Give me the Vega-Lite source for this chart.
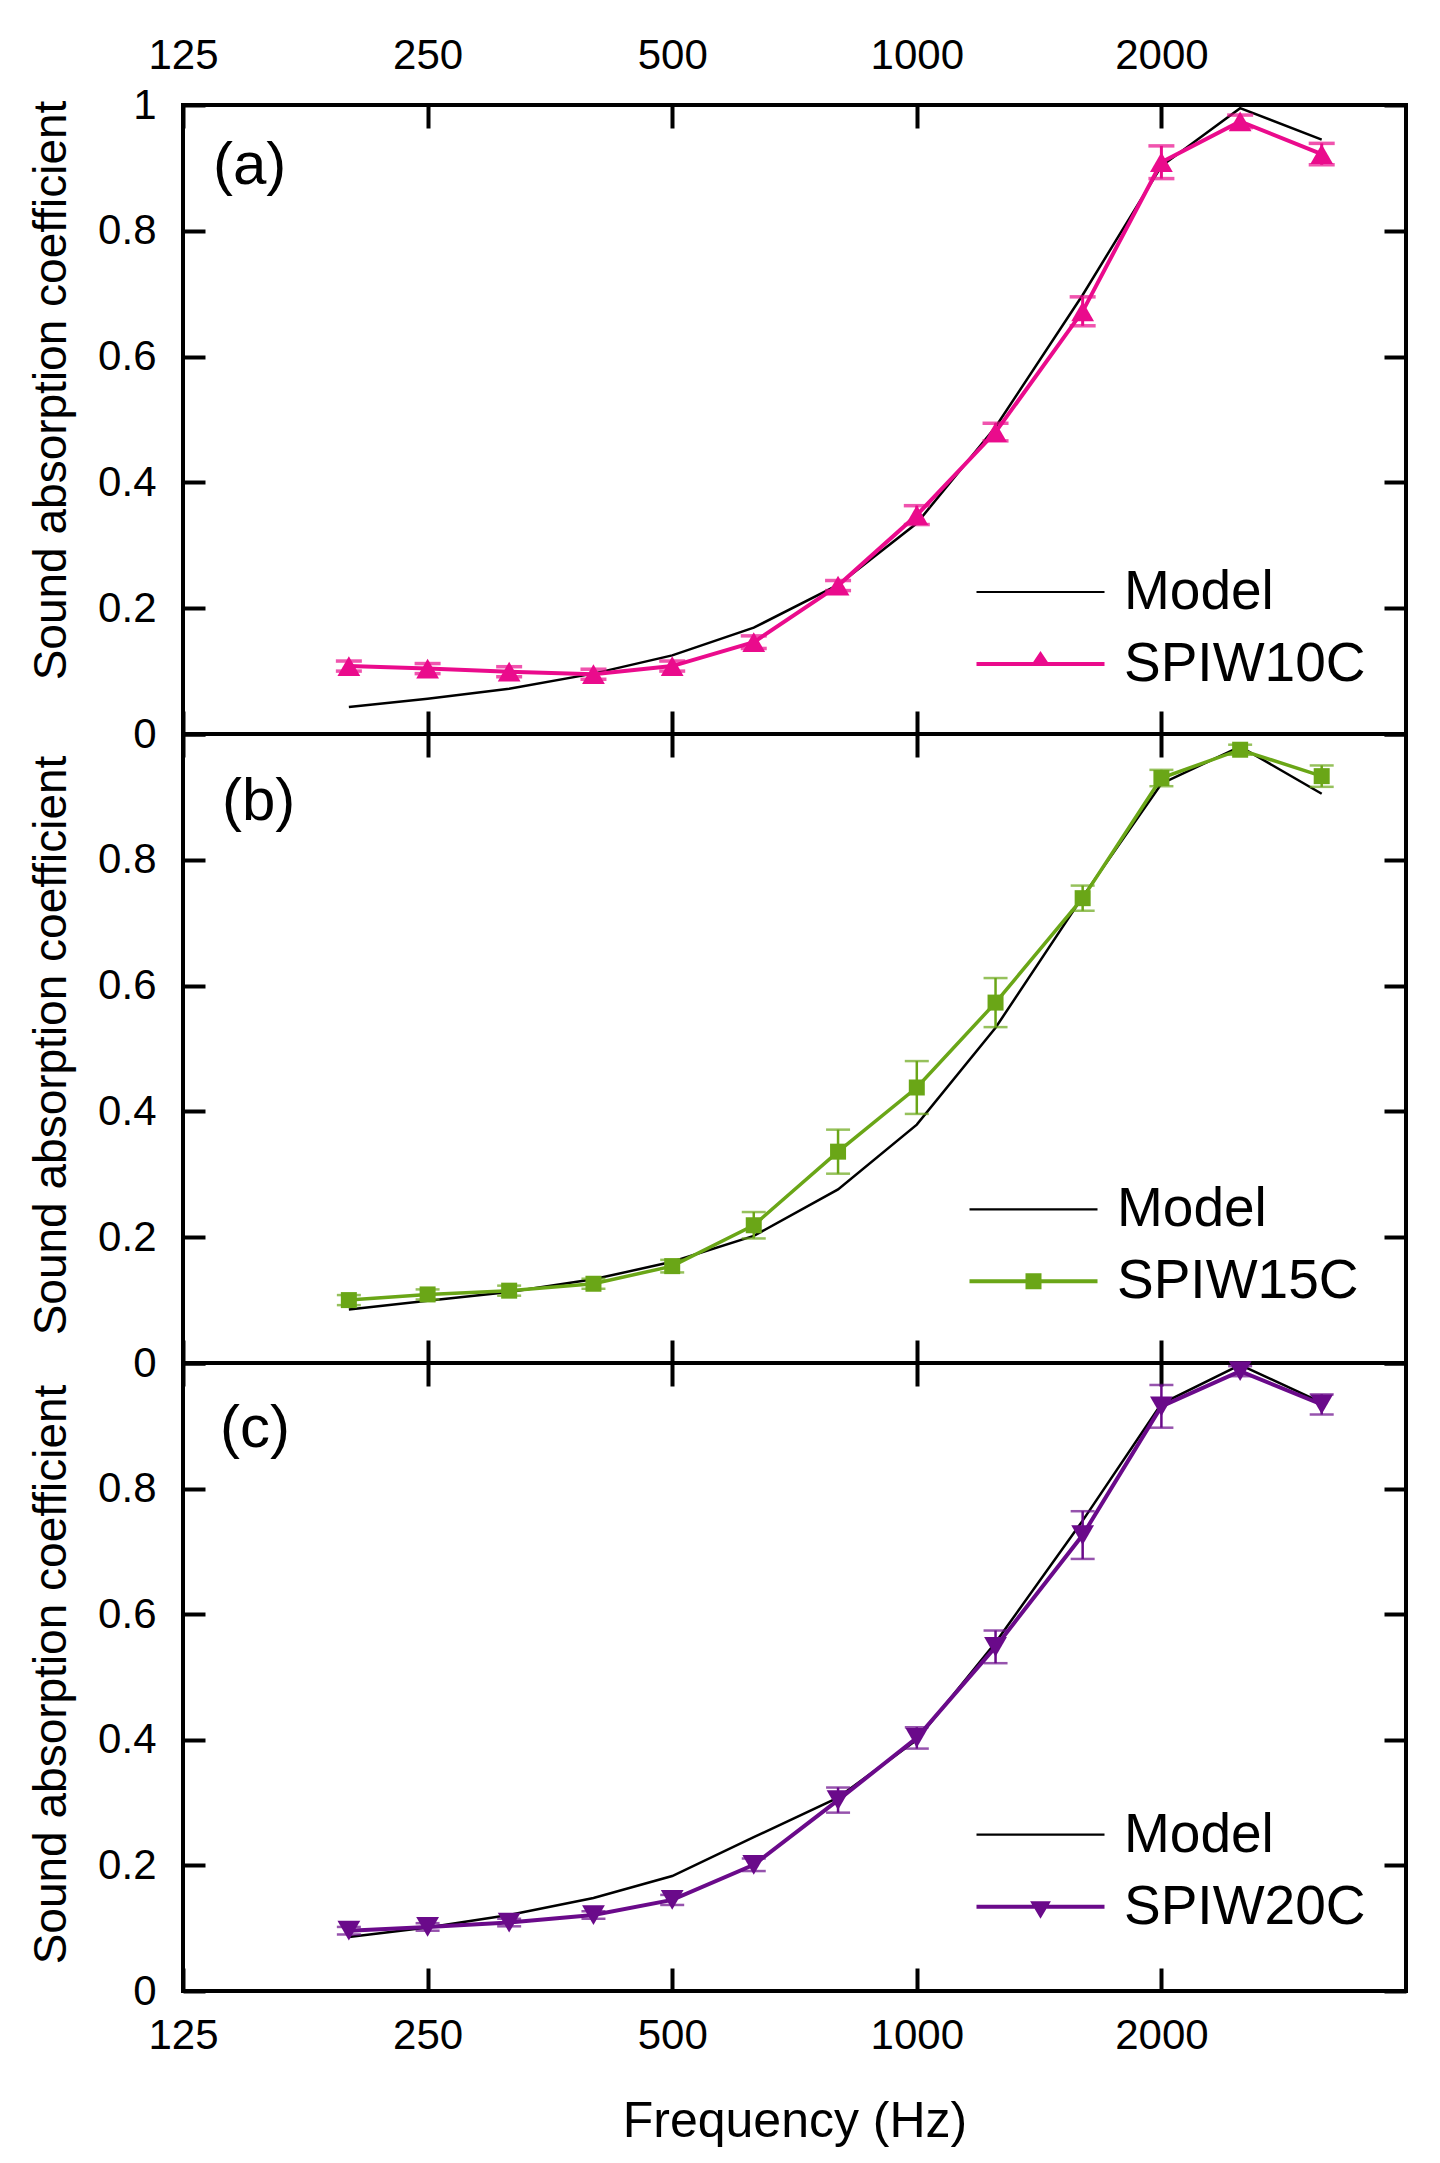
{
  "$schema": "https://vega.github.io/schema/vega-lite/v6.json",
  "background": "white",
  "autosize": {"type": "pad"},
  "padding": {"left": 25, "top": 32, "right": 0, "bottom": 0},
  "datasets": {
    "a": [
      {"f": 200, "model": 0.043, "meas": 0.108, "err": 0.008},
      {"f": 250, "model": 0.056, "meas": 0.104, "err": 0.008},
      {"f": 315, "model": 0.072, "meas": 0.099, "err": 0.008},
      {"f": 400, "model": 0.096, "meas": 0.095, "err": 0.008},
      {"f": 500, "model": 0.125, "meas": 0.108, "err": 0.008},
      {"f": 630, "model": 0.169, "meas": 0.146, "err": 0.010},
      {"f": 800, "model": 0.237, "meas": 0.236, "err": 0.008},
      {"f": 1000, "model": 0.335, "meas": 0.348, "err": 0.015},
      {"f": 1250, "model": 0.488, "meas": 0.480, "err": 0.014},
      {"f": 1600, "model": 0.698, "meas": 0.672, "err": 0.023},
      {"f": 2000, "model": 0.903, "meas": 0.909, "err": 0.026},
      {"f": 2500, "model": 0.995, "meas": 0.974, "err": 0.010},
      {"f": 3150, "model": 0.945, "meas": 0.922, "err": 0.017}
    ],
    "b": [
      {"f": 200, "model": 0.085, "meas": 0.100, "err": 0.008},
      {"f": 250, "model": 0.099, "meas": 0.109, "err": 0.008},
      {"f": 315, "model": 0.113, "meas": 0.115, "err": 0.008},
      {"f": 400, "model": 0.133, "meas": 0.126, "err": 0.008},
      {"f": 500, "model": 0.161, "meas": 0.154, "err": 0.010},
      {"f": 630, "model": 0.202, "meas": 0.219, "err": 0.021},
      {"f": 800, "model": 0.276, "meas": 0.336, "err": 0.035},
      {"f": 1000, "model": 0.379, "meas": 0.438, "err": 0.042},
      {"f": 1250, "model": 0.533, "meas": 0.573, "err": 0.039},
      {"f": 1600, "model": 0.741, "meas": 0.739, "err": 0.020},
      {"f": 2000, "model": 0.921, "meas": 0.930, "err": 0.013},
      {"f": 2500, "model": 0.980, "meas": 0.975, "err": 0.008},
      {"f": 3150, "model": 0.905, "meas": 0.933, "err": 0.017}
    ],
    "c": [
      {"f": 200, "model": 0.086, "meas": 0.096, "err": 0.006},
      {"f": 250, "model": 0.101, "meas": 0.102, "err": 0.006},
      {"f": 315, "model": 0.121, "meas": 0.109, "err": 0.006},
      {"f": 400, "model": 0.148, "meas": 0.121, "err": 0.006},
      {"f": 500, "model": 0.183, "meas": 0.145, "err": 0.008},
      {"f": 630, "model": 0.245, "meas": 0.201, "err": 0.010},
      {"f": 800, "model": 0.308, "meas": 0.304, "err": 0.020},
      {"f": 1000, "model": 0.400, "meas": 0.403, "err": 0.017},
      {"f": 1250, "model": 0.555, "meas": 0.548, "err": 0.026},
      {"f": 1600, "model": 0.749, "meas": 0.726, "err": 0.038},
      {"f": 2000, "model": 0.935, "meas": 0.931, "err": 0.034},
      {"f": 2500, "model": 0.997, "meas": 0.987, "err": 0.008},
      {"f": 3150, "model": 0.937, "meas": 0.934, "err": 0.016}
    ]
  },
  "spacing": 0,
  "bounds": "flush",
  "vconcat": [
    {
      "width": 1223,
      "height": 629,
      "title": {"text": "(a)", "offset": -163, "dx": 30},
      "data": {"name": "a"},
      "layer": [
        {
          "mark": {"type": "line", "color": "black", "strokeWidth": 2.5},
          "encoding": {
            "x": {"field": "f", "type": "quantitative",
              "scale": {"type": "log", "base": 2, "domain": [125, 4000], "nice": false},
              "axis": {"orient": "bottom", "values": [125, 250, 500, 1000, 2000], "labels": false, "title": null}},
            "y": {"field": "model", "type": "quantitative",
              "scale": {"domain": [0, 1], "nice": false},
              "axis": {"orient": "left", "values": [0, 0.2, 0.4, 0.6, 0.8, 1], "format": "~g",
                "title": "Sound absorption coefficient", "titleX": -118, "titleY": 285}}
          }
        },
        {
          "mark": {"type": "line", "color": "#EA0B8C", "strokeWidth": 4},
          "encoding": {
            "x": {"field": "f", "type": "quantitative",
              "axis": {"orient": "top", "values": [125, 250, 500, 1000, 2000], "format": "d", "title": null}},
            "y": {"field": "meas", "type": "quantitative",
              "axis": {"orient": "right", "values": [0, 0.2, 0.4, 0.6, 0.8, 1], "labels": false, "title": null}}
          }
        },
        {
          "mark": {"type": "errorbar", "color": "#EA0B8C", "thickness": 3, "ticks": {"size": 26, "thickness": 3.5}},
          "encoding": {
            "x": {"field": "f", "type": "quantitative", "axis": null},
            "y": {"field": "meas", "type": "quantitative", "axis": null},
            "yError": {"field": "err"}
          }
        },
        {
          "mark": {"type": "point", "shape": "triangle-up", "filled": true, "size": 520, "opacity": 1, "color": "#EA0B8C"},
          "encoding": {
            "x": {"field": "f", "type": "quantitative", "axis": null},
            "y": {"field": "meas", "type": "quantitative", "axis": null}
          }
        },
        {
          "data": {"values": []},
          "mark": {"type": "point", "filled": true, "size": 1600, "opacity": 1},
          "encoding": {
            "color": {"field": "s", "type": "nominal",
              "scale": {"domain": ["Model", "SPIW10C"], "range": ["black", "#EA0B8C"]},
              "legend": {"legendX": 830, "legendY": 459.5}},
            "shape": {"field": "s", "type": "nominal",
              "scale": {"domain": ["Model", "SPIW10C"],
                "range": ["M-3.2,-0.055H3.2V0.055H-3.2Z", "M-3.2,-0.1H3.2V0.1H-3.2Z M0,-0.65L0.5,0.1L-0.5,0.1Z"]},
              "legend": {"legendX": 830, "legendY": 459.5}}
          }
        }
      ],
      "resolve": {"axis": {"x": "independent", "y": "independent"}}
    },
    {
      "width": 1223,
      "height": 629,
      "title": {"text": "(b)", "offset": -120, "dx": 39},
      "data": {"name": "b"},
      "layer": [
        {
          "mark": {"type": "line", "color": "black", "strokeWidth": 2.5},
          "encoding": {
            "x": {"field": "f", "type": "quantitative",
              "scale": {"type": "log", "base": 2, "domain": [125, 4000], "nice": false},
              "axis": {"orient": "bottom", "values": [125, 250, 500, 1000, 2000], "labels": false, "title": null}},
            "y": {"field": "model", "type": "quantitative",
              "scale": {"domain": [0, 1], "nice": false},
              "axis": {"orient": "left", "values": [0, 0.2, 0.4, 0.6, 0.8, 1], "format": "~g",
                "labelExpr": "datum.value == 1 ? '' : datum.label",
                "title": "Sound absorption coefficient", "titleX": -118, "titleY": 311}}
          }
        },
        {
          "mark": {"type": "line", "color": "#6AA617", "strokeWidth": 3.5},
          "encoding": {
            "x": {"field": "f", "type": "quantitative",
              "axis": {"orient": "top", "values": [125, 250, 500, 1000, 2000], "labels": false, "title": null}},
            "y": {"field": "meas", "type": "quantitative",
              "axis": {"orient": "right", "values": [0, 0.2, 0.4, 0.6, 0.8, 1], "labels": false, "title": null}}
          }
        },
        {
          "mark": {"type": "errorbar", "color": "#6AA617", "thickness": 2.5, "ticks": {"size": 24, "thickness": 2.5}},
          "encoding": {
            "x": {"field": "f", "type": "quantitative", "axis": null},
            "y": {"field": "meas", "type": "quantitative", "axis": null},
            "yError": {"field": "err"}
          }
        },
        {
          "mark": {"type": "point", "shape": "square", "filled": true, "size": 256, "opacity": 1, "color": "#6AA617"},
          "encoding": {
            "x": {"field": "f", "type": "quantitative", "axis": null},
            "y": {"field": "meas", "type": "quantitative", "axis": null}
          }
        },
        {
          "data": {"values": []},
          "mark": {"type": "point", "filled": true, "size": 1600, "opacity": 1},
          "encoding": {
            "color": {"field": "s", "type": "nominal",
              "scale": {"domain": ["Model", "SPIW15C"], "range": ["black", "#6AA617"]},
              "legend": {"legendX": 823, "legendY": 447.8}},
            "shape": {"field": "s", "type": "nominal",
              "scale": {"domain": ["Model", "SPIW15C"],
                "range": ["M-3.2,-0.055H3.2V0.055H-3.2Z", "M-3.2,-0.1H3.2V0.1H-3.2Z M-0.4,-0.4H0.4V0.4H-0.4Z"]},
              "legend": {"legendX": 823, "legendY": 447.8}}
          }
        }
      ],
      "resolve": {"axis": {"x": "independent", "y": "independent"}}
    },
    {
      "width": 1223,
      "height": 628,
      "title": {"text": "(c)", "offset": -118, "dx": 37},
      "data": {"name": "c"},
      "layer": [
        {
          "mark": {"type": "line", "color": "black", "strokeWidth": 2.5},
          "encoding": {
            "x": {"field": "f", "type": "quantitative",
              "scale": {"type": "log", "base": 2, "domain": [125, 4000], "nice": false},
              "axis": {"orient": "bottom", "values": [125, 250, 500, 1000, 2000], "format": "d", "labelPadding": 47,
                "title": "Frequency (Hz)", "titleFontSize": 50, "titleBaseline": "alphabetic", "titleY": 145}},
            "y": {"field": "model", "type": "quantitative",
              "scale": {"domain": [0, 1], "nice": false},
              "axis": {"orient": "left", "values": [0, 0.2, 0.4, 0.6, 0.8, 1], "format": "~g",
                "labelExpr": "datum.value == 1 ? '' : datum.label",
                "title": "Sound absorption coefficient", "titleX": -118, "titleY": 311}}
          }
        },
        {
          "mark": {"type": "line", "color": "#6A0A8A", "strokeWidth": 4},
          "encoding": {
            "x": {"field": "f", "type": "quantitative",
              "axis": {"orient": "top", "values": [125, 250, 500, 1000, 2000], "labels": false, "title": null}},
            "y": {"field": "meas", "type": "quantitative",
              "axis": {"orient": "right", "values": [0, 0.2, 0.4, 0.6, 0.8, 1], "labels": false, "title": null}}
          }
        },
        {
          "mark": {"type": "errorbar", "color": "#6A0A8A", "thickness": 2.5, "ticks": {"size": 24, "thickness": 2.5}},
          "encoding": {
            "x": {"field": "f", "type": "quantitative", "axis": null},
            "y": {"field": "meas", "type": "quantitative", "axis": null},
            "yError": {"field": "err"}
          }
        },
        {
          "mark": {"type": "point", "shape": "triangle-down", "filled": true, "size": 520, "opacity": 1, "color": "#6A0A8A"},
          "encoding": {
            "x": {"field": "f", "type": "quantitative", "axis": null},
            "y": {"field": "meas", "type": "quantitative", "axis": null}
          }
        },
        {
          "data": {"values": []},
          "mark": {"type": "point", "filled": true, "size": 1600, "opacity": 1},
          "encoding": {
            "color": {"field": "s", "type": "nominal",
              "scale": {"domain": ["Model", "SPIW20C"], "range": ["black", "#6A0A8A"]},
              "legend": {"legendX": 830, "legendY": 444.2}},
            "shape": {"field": "s", "type": "nominal",
              "scale": {"domain": ["Model", "SPIW20C"],
                "range": ["M-3.2,-0.055H3.2V0.055H-3.2Z", "M-3.2,-0.1H3.2V0.1H-3.2Z M-0.52,-0.27L0.52,-0.27L0,0.6Z"]},
              "legend": {"legendX": 830, "legendY": 444.2}}
          }
        }
      ],
      "resolve": {"axis": {"x": "independent", "y": "independent"}}
    }
  ],
  "resolve": {
    "scale": {"color": "independent", "shape": "independent"},
    "legend": {"color": "independent", "shape": "independent"}
  },
  "config": {
    "font": "Liberation Sans",
    "view": {"stroke": "black", "strokeWidth": 4},
    "axis": {
      "domain": false,
      "grid": false,
      "tickColor": "black",
      "tickWidth": 4,
      "labelColor": "black",
      "labelFont": "Liberation Sans",
      "labelFontSize": 42,
      "labelFlush": false,
      "labelOverlap": false,
      "titleColor": "black",
      "titleFont": "Liberation Sans",
      "titleFontSize": 46,
      "titleFontWeight": "normal",
      "titleBaseline": "alphabetic"
    },
    "axisX": {"tickSize": -23, "labelPadding": 51},
    "axisY": {"tickSize": -22, "labelPadding": 49},
    "title": {
      "anchor": "start",
      "frame": "group",
      "font": "Liberation Sans",
      "fontSize": 60,
      "fontWeight": "normal",
      "color": "black",
      "baseline": "alphabetic"
    },
    "legend": {
      "orient": "none",
      "title": null,
      "padding": 0,
      "symbolSize": 1600,
      "symbolStrokeWidth": 0,
      "labelFont": "Liberation Sans",
      "labelFontSize": 55,
      "labelColor": "black",
      "labelOffset": 56,
      "labelLimit": 0,
      "rowPadding": 16
    }
  }
}
